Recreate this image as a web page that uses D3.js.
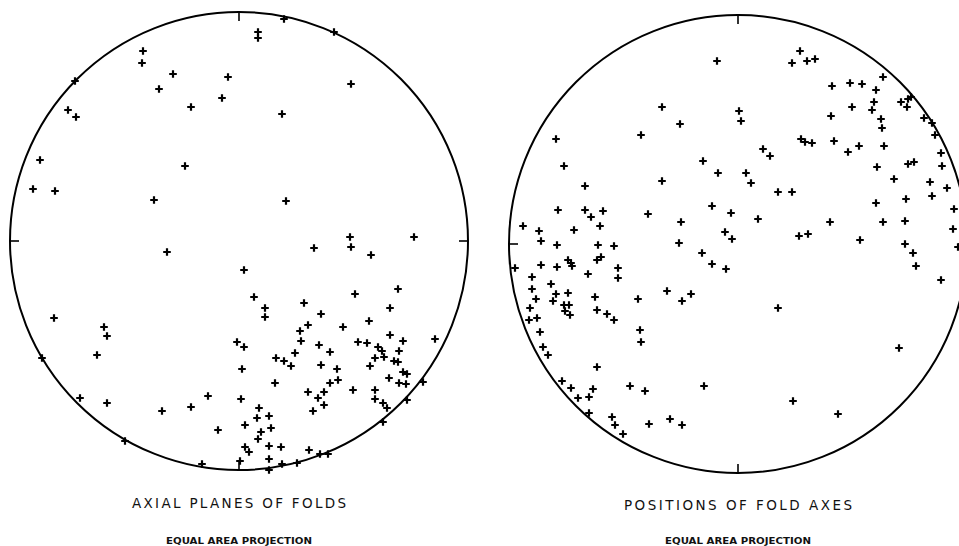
<!DOCTYPE html>
<html>
<head>
<meta charset="utf-8">
<script src="https://cdn.jsdelivr.net/npm/d3@7"></script>
<style>
  body { margin: 0; background: #fff; }
  svg { display: block; }
</style>
</head>
<body>
<div id="nets"></div>
<script>
// poles plotted on the net, in net units (east, north), net radius = 229
var netRadius = 229;

var axialPlanes = [
  [-96, 190], [-97, 178], [-66, 167], [-11, 164], [-80, 152], [-17, 143], [-48, 134],
  [-164, 160], [-171, 131], [-163, 124], [-199, 81], [-206, 52], [-184, 50], [-54, 75],
  [-85, 41], [45, 222], [19, 209], [19, 203], [95, 209], [112, 157], [43, 127], [47, 40],
  [111, 4], [175, 4], [-72, -11], [-185, -77], [-135, -86], [-132, -95], [-142, -114],
  [-197, -117], [-159, -157], [-132, -162], [-77, -170], [-48, -166], [-31, -155],
  [-21, -189], [-114, -200], [-37, -223], [75, -7], [112, -6], [132, -14], [5, -29],
  [159, -48], [15, -56], [116, -53], [65, -62], [26, -67], [26, -76], [82, -73],
  [151, -67], [130, -80], [69, -84], [61, -90], [104, -86], [151, -94], [164, -100],
  [196, -98], [-2, -101], [5, -106], [62, -100], [80, -104], [91, -111], [56, -112],
  [119, -101], [128, -102], [139, -106], [143, -110], [160, -110], [37, -117],
  [45, -120], [52, -125], [82, -124], [98, -128], [3, -128], [136, -117], [145, -116],
  [155, -120], [159, -121], [131, -125], [164, -131], [168, -133], [36, -142],
  [91, -142], [99, -139], [150, -137], [160, -142], [167, -143], [184, -141],
  [69, -151], [85, -151], [114, -149], [136, -149], [2, -158], [79, -157], [136, -158],
  [168, -159], [144, -162], [148, -167], [85, -164], [74, -170], [20, -167], [18, -177],
  [30, -175], [6, -184], [32, -187], [22, -191], [19, -198], [144, -181], [6, -206],
  [10, -211], [30, -205], [42, -206], [70, -209], [81, -213], [89, -213], [30, -218],
  [43, -223], [58, -222], [1, -220], [30, -229]
];

var foldAxes = [
  [-21, 183], [-76, 137], [1, 133], [3, 123], [-58, 120], [-97, 109], [-182, 105],
  [-35, 83], [-20, 71], [-174, 78], [-76, 63], [-153, 58], [-180, 34], [-153, 34],
  [-147, 27], [-135, 33], [-90, 30], [-26, 38], [-7, 31], [-57, 22], [-215, 18],
  [-199, 13], [-164, 14], [-138, 18], [-13, 12], [-6, 5], [-197, 3], [-181, -1],
  [-140, -1], [-124, -2], [-59, 1], [62, 193], [54, 181], [69, 183], [77, 185],
  [145, 167], [94, 158], [112, 161], [124, 160], [138, 154], [163, 142], [170, 145],
  [173, 147], [169, 137], [136, 142], [134, 134], [114, 137], [93, 128], [143, 125],
  [144, 116], [186, 126], [194, 121], [197, 109], [63, 105], [67, 102], [74, 101],
  [96, 103], [121, 98], [110, 92], [146, 98], [25, 95], [32, 88], [203, 91], [139, 77],
  [170, 80], [176, 82], [204, 78], [156, 65], [192, 62], [209, 56], [8, 71], [13, 61],
  [40, 52], [54, 52], [194, 48], [168, 45], [138, 41], [216, 35], [20, 25], [92, 22],
  [145, 22], [167, 23], [215, 15], [61, 8], [70, 10], [122, 4], [167, 0],
  [-223, -24], [-197, -21], [-181, -23], [-170, -16], [-167, -19], [-166, -22],
  [-141, -16], [-137, -13], [-150, -30], [-120, -24], [-120, -34], [-36, -9],
  [-26, -20], [-12, -25], [-206, -33], [-206, -45], [-187, -40], [-182, -50],
  [-170, -49], [-202, -55], [-185, -57], [-174, -61], [-169, -61], [-173, -67],
  [-168, -71], [-143, -53], [-141, -66], [-131, -70], [-124, -76], [-100, -55],
  [-71, -47], [-56, -57], [-47, -50], [-208, -64], [-209, -76], [-201, -74],
  [-198, -88], [-195, -103], [-190, -111], [-98, -86], [-97, -98], [-141, -123],
  [-176, -137], [-167, -144], [-160, -154], [-149, -153], [-145, -145], [-108, -142],
  [-93, -147], [-34, -142], [-149, -169], [-126, -173], [-123, -181], [-115, -190],
  [-89, -180], [-68, -175], [-56, -181], [175, -9], [178, -22], [203, -36], [220, -3],
  [40, -64], [161, -104], [55, -157], [100, -170]
];

var netTitles = ["AXIAL PLANES OF FOLDS", "POSITIONS OF FOLD AXES"];
var netSubtitle = "EQUAL AREA PROJECTION";

var width = 959,
  height = 546;

var svg = d3.select("#nets")
  .append("svg")
  .attr("width", width)
  .attr("height", height);

drawNet(svg, 239, 241, axialPlanes, netTitles[0], 214, 503);
drawNet(svg, 738, 244, foldAxes, netTitles[1], 228, 505);

function drawNet(svg, cx, cy, points, title, titleWidth, titleY) {
  var r = 229;

  var x = d3.scaleLinear()
    .domain([-netRadius, netRadius])
    .range([cx - r, cx + r]);

  var y = d3.scaleLinear()
    .domain([-netRadius, netRadius])
    .range([cy + r, cy - r]);

  var g = svg.append("g");

  // primitive circle
  g.append("circle")
    .attr("cx", x(0))
    .attr("cy", y(0))
    .attr("r", x(netRadius) - x(0))
    .attr("fill", "none")
    .attr("stroke", "#000")
    .attr("stroke-width", 2);

  // N, E, S, W ticks pointing inward
  var ticks = [[0, 1], [1, 0], [0, -1], [-1, 0]];
  var tickLen = 9;
  g.selectAll(".tick")
    .data(ticks)
    .enter()
    .append("line")
    .attr("class", "tick")
    .attr("x1", function (d) { return x(d[0] * netRadius); })
    .attr("y1", function (d) { return y(d[1] * netRadius); })
    .attr("x2", function (d) { return x(d[0] * netRadius) - d[0] * tickLen; })
    .attr("y2", function (d) { return y(d[1] * netRadius) + d[1] * tickLen; })
    .attr("stroke", "#000")
    .attr("stroke-width", 1.6);

  // plus markers
  g.selectAll(".pt")
    .data(points)
    .enter()
    .append("path")
    .attr("class", "pt")
    .attr("transform", function (d) { return "translate(" + x(d[0]) + "," + y(d[1]) + ")"; })
    .attr("d", "M-3.8,0H3.8M0,-3.8V3.8")
    .attr("stroke", "#000")
    .attr("stroke-width", 2.2)
    .attr("fill", "none");

  // titles
  g.append("text")
    .attr("x", x(0) - titleWidth / 2)
    .attr("y", titleY + 5)
    .attr("textLength", titleWidth)
    .attr("lengthAdjust", "spacing")
    .style("font-family", "DejaVu Sans, sans-serif")
    .style("font-size", "13.5px")
    .style("fill", "#111")
    .text(title);

  g.append("text")
    .attr("x", x(0) - 73)
    .attr("y", 544)
    .attr("textLength", 146)
    .attr("lengthAdjust", "spacingAndGlyphs")
    .style("font-family", "DejaVu Sans, sans-serif")
    .style("font-weight", "bold")
    .style("font-size", "8.5px")
    .style("fill", "#111")
    .text(netSubtitle);
}
</script>
</body>
</html>
